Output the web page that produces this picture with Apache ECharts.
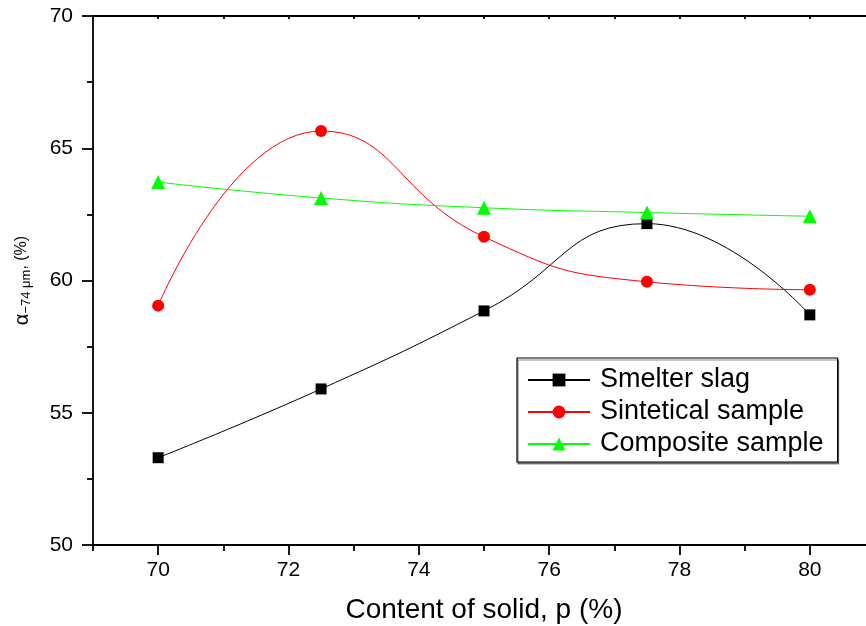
<!DOCTYPE html>
<html>
<head>
<meta charset="utf-8">
<script src="https://cdn.jsdelivr.net/npm/echarts@6/dist/echarts.min.js"></script>
<style>
html,body{margin:0;padding:0;background:#fff;overflow:hidden;}
#c{width:866px;height:626px;}
</style>
</head>
<body>
<div id="c"></div>
<script>
const solidContent = [70, 72.5, 75, 77.5, 80];
const smelterSlag = [53.3, 55.9, 58.85, 62.15, 58.7];
const sinteticalSample = [59.05, 65.65, 61.65, 59.95, 59.65];
const compositeSample = [63.72, 63.12, 62.75, 62.57, 62.43];
const seriesNames = ['Smelter slag', 'Sintetical sample', 'Composite sample'];
const xMajorTicks = [70, 72, 74, 76, 78, 80];
const xMinorTicks = [69, 71, 73, 75, 77, 79, 81];
const yMajorTicks = [50, 55, 60, 65, 70];
const yMinorTicks = [52.5, 57.5, 62.5, 67.5];

const font = 'Liberation Sans, Arial, sans-serif';
function pairs(ys){ return solidContent.map((x,i)=>[x, ys[i]]); }

const chart = echarts.init(document.getElementById('c'), null, {renderer:'canvas'});
const ls = {color:'#000', width:1.8};
chart.setOption({
  animation:false,
  backgroundColor:'#fff',
  grid:[{left:93, top:16, width:782, height:529, containLabel:false, outerBoundsMode:'none'}],
  xAxis:[{
    type:'value', min:69, max:81, interval:1,
    name:'Content of solid, p (%)', nameLocation:'middle', nameGap:51,
    nameTextStyle:{fontFamily:font, fontSize:28, color:'#000'},
    axisLine:{show:true, onZero:false, lineStyle:ls},
    axisTick:{show:true, inside:false, length:10, customValues:xMajorTicks, lineStyle:ls},
    axisLabel:{fontFamily:font, fontSize:21, color:'#000', margin:15, customValues:xMajorTicks},
    splitLine:{show:false}
  },{
    type:'value', position:'bottom', min:69, max:81, interval:1,
    axisLine:{show:false, onZero:false},
    axisTick:{show:true, inside:false, length:6, customValues:xMinorTicks, lineStyle:ls},
    axisLabel:{show:false}, splitLine:{show:false}
  },{
    type:'value', position:'top', min:69, max:81, interval:1,
    axisLine:{show:true, onZero:false, lineStyle:ls},
    axisTick:{show:true, inside:true, length:3, lineStyle:ls},
    axisLabel:{show:false}, splitLine:{show:false}
  }],
  yAxis:[{
    type:'value', min:50, max:70, interval:2.5,
    name:'{a|α}{s|−74 μm}{n|, (%)}', nameLocation:'middle', nameGap:60, nameRotate:90,
    nameTextStyle:{fontFamily:font, color:'#000', rich:{
      a:{fontFamily:font, fontSize:20, color:'#000'},
      s:{fontFamily:font, fontSize:13, color:'#000', verticalAlign:'bottom', padding:[9,0,0,0]},
      n:{fontFamily:font, fontSize:16, color:'#000'}
    }},
    axisLine:{show:true, onZero:false, lineStyle:ls},
    axisTick:{show:true, inside:false, length:11, customValues:yMajorTicks, lineStyle:ls},
    axisLabel:{fontFamily:font, fontSize:21, color:'#000', margin:20, customValues:yMajorTicks},
    splitLine:{show:false}
  },{
    type:'value', position:'left', min:50, max:70, interval:2.5,
    axisLine:{show:false, onZero:false},
    axisTick:{show:true, inside:false, length:6, customValues:yMinorTicks, lineStyle:ls},
    axisLabel:{show:false}, splitLine:{show:false}
  },{
    type:'value', position:'right', min:50, max:70, interval:2.5,
    axisLine:{show:true, onZero:false, lineStyle:ls},
    axisTick:{show:true, inside:true, length:3, lineStyle:ls},
    axisLabel:{show:false}, splitLine:{show:false}
  }],
  legend:{
    orient:'vertical', left:517, top:358,
    padding:[7,14,3,10], itemGap:2, itemWidth:62, itemHeight:16,
    borderColor:'#000', borderWidth:1.2,
    shadowColor:'rgba(0,0,0,0.45)', shadowOffsetX:1, shadowOffsetY:2, shadowBlur:0,
    backgroundColor:'#fff',
    textStyle:{fontFamily:font, fontSize:27, lineHeight:30, color:'#000', padding:[0,0,0,5]},
    data:seriesNames
  },
  series:[{
    name:seriesNames[0], type:'line', smooth:true,
    data:pairs(smelterSlag), symbol:'rect', symbolSize:11,
    itemStyle:{color:'#000'}, lineStyle:{color:'#000', width:1}
  },{
    name:seriesNames[1], type:'line', smooth:true,
    data:pairs(sinteticalSample), symbol:'circle', symbolSize:12,
    itemStyle:{color:'#ff0000'}, lineStyle:{color:'#ff0000', width:1}
  },{
    name:seriesNames[2], type:'line', smooth:true,
    data:pairs(compositeSample), symbol:'triangle', symbolSize:14,
    itemStyle:{color:'#00ff00'}, lineStyle:{color:'#00ff00', width:1}
  }]
});
</script>
</body>
</html>
